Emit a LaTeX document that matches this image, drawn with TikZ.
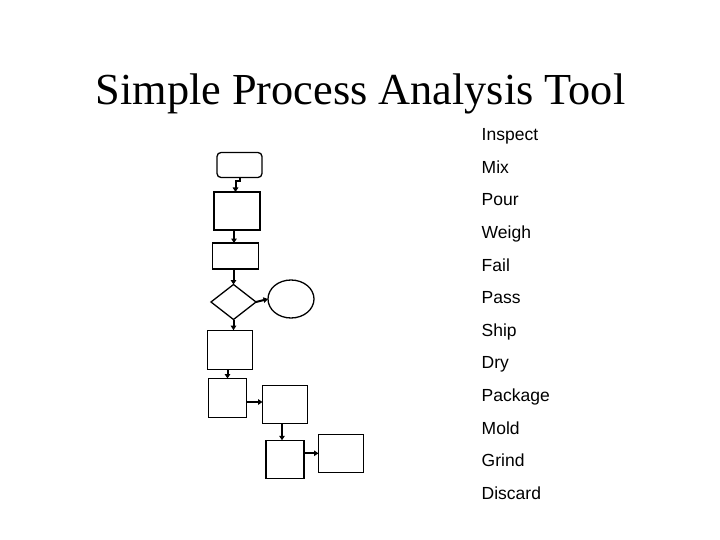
\documentclass[tikz,border=0pt]{standalone}
\usepackage{fontspec}
\setmainfont{Liberation Serif}
\newfontfamily\arialfont{Liberation Sans}
\usetikzlibrary{shapes.geometric,arrows.meta}
\tikzset{
  box/.style={draw, line width=1.3pt, inner sep=0pt, outer sep=0pt},
  arr/.style={line width=2pt, -{Triangle[length=4.5pt,width=5.5pt]}},
  lbl/.style={font=\arialfont\fontsize{17.5}{20}\selectfont, anchor=base west, inner sep=0pt},
}
\begin{document}
\begin{tikzpicture}[x=1pt,y=-1pt]
\useasboundingbox[fill=white] (0,0) rectangle (720,540);
\node[font=\fontsize{44.3}{52}\selectfont, anchor=base, inner sep=0pt] (title) at (360.5,105) {Simple Process Analysis Tool};
% shapes
\node[box, rounded corners=4pt, minimum width=45pt, minimum height=25pt] (s) at (239.5,165) {};
\node[box, minimum width=46pt, minimum height=38pt] (b2) at (237,211) {};
\node[box, minimum width=46pt, minimum height=26pt] (b3) at (235.7,256) {};
\node[box, diamond, minimum width=45pt, minimum height=35pt] (d) at (233.5,302) {};
\node[box, ellipse, minimum width=46pt, minimum height=38pt] (e) at (291,299) {};
\node[box, minimum width=45pt, minimum height=39pt] (b4) at (229.8,349.7) {};
\node[box, minimum width=38pt, minimum height=39pt] (b5) at (227.5,398) {};
\node[box, minimum width=45pt, minimum height=38pt] (b6) at (285,404.3) {};
\node[box, minimum width=38pt, minimum height=38pt] (b7) at (285,459.3) {};
\node[box, minimum width=45pt, minimum height=38pt] (b8) at (341,453.3) {};
% connectors
\draw[arr] (s.south) -- ++(0,4) -| ([xshift=-1.5pt]b2.north);
\draw[arr] ([xshift=-3pt]b2.south) -- ([xshift=-3pt]b2.south |- b3.north);
\draw[arr] (b3.south -| d.north) -- (d.north);
\draw[arr] (d.east) -- (e.west);
\draw[arr] (d.south) -- (d.south |- b4.north);
\draw[arr] (b5.north |- b4.south) -- (b5.north);
\draw[arr] ([yshift=-4pt]b5.east) -- ([yshift=-4pt]b5.east -| b6.west);
\draw[arr] ([xshift=-3pt]b6.south) -- ([xshift=-3pt]b6.south |- b7.north);
\draw[arr] (b7.east |- b8.west) -- (b8.west);
% labels
\node[lbl] (l1) at (481.5,140.7) {Inspect};
\node[lbl] (l2) at (481.5,173.3) {Mix};
\node[lbl] (l3) at (481.5,205.9) {Pour};
\node[lbl] (l4) at (481.5,238.5) {Weigh};
\node[lbl] (l5) at (481.5,271.1) {Fail};
\node[lbl] (l6) at (481.5,303.7) {Pass};
\node[lbl] (l7) at (481.5,336.3) {Ship};
\node[lbl] (l8) at (481.5,368.9) {Dry};
\node[lbl] (l9) at (481.5,401.5) {Package};
\node[lbl] (l10) at (481.5,434.1) {Mold};
\node[lbl] (l11) at (481.5,466.7) {Grind};
\node[lbl] (l12) at (481.5,499.3) {Discard};
\end{tikzpicture}
\end{document}
